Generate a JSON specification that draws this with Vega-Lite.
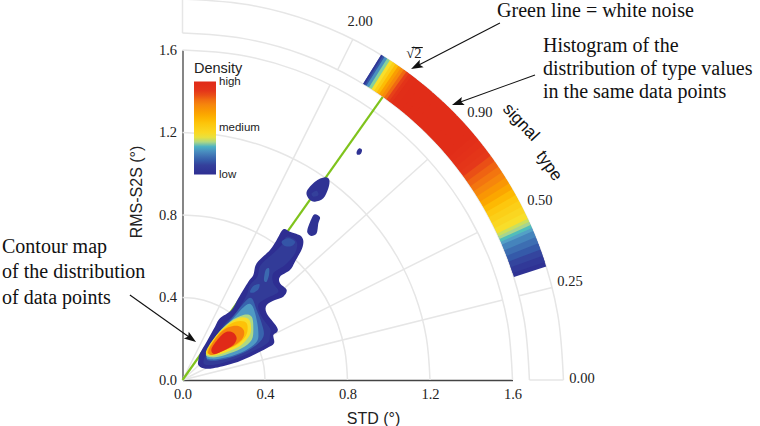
{
"$schema":"https://vega.github.io/schema/vega-lite/v6.json",
"width":330,"height":330,
"autosize":{"type":"none"},
"padding":{"left":182.5,"top":50,"right":247.5,"bottom":46},
"background":"white",
"config":{"view":{"stroke":null}},
"datasets":{
"arcs":[
{"id":"a4","x":0.4,"y":0},{"id":"a4","x":0.3939,"y":0.0695},{"id":"a4","x":0.3759,"y":0.1368},{"id":"a4","x":0.3464,"y":0.2},{"id":"a4","x":0.3064,"y":0.2571},{"id":"a4","x":0.2571,"y":0.3064},{"id":"a4","x":0.2,"y":0.3464},{"id":"a4","x":0.1368,"y":0.3759},{"id":"a4","x":0.0695,"y":0.3939},{"id":"a4","x":0,"y":0.4},
{"id":"a8","x":0.8,"y":0},{"id":"a8","x":0.7878,"y":0.1389},{"id":"a8","x":0.7518,"y":0.2736},{"id":"a8","x":0.6928,"y":0.4},{"id":"a8","x":0.6128,"y":0.5142},{"id":"a8","x":0.5142,"y":0.6128},{"id":"a8","x":0.4,"y":0.6928},{"id":"a8","x":0.2736,"y":0.7518},{"id":"a8","x":0.1389,"y":0.7878},{"id":"a8","x":0,"y":0.8},
{"id":"a12","x":1.2,"y":0},{"id":"a12","x":1.1818,"y":0.2084},{"id":"a12","x":1.1276,"y":0.4104},{"id":"a12","x":1.0392,"y":0.6},{"id":"a12","x":0.9192,"y":0.7714},{"id":"a12","x":0.7714,"y":0.9192},{"id":"a12","x":0.6,"y":1.0392},{"id":"a12","x":0.4104,"y":1.1276},{"id":"a12","x":0.2084,"y":1.1818},{"id":"a12","x":0,"y":1.2},
{"id":"a16","x":1.6,"y":0},{"id":"a16","x":1.5757,"y":0.2778},{"id":"a16","x":1.5035,"y":0.5472},{"id":"a16","x":1.3856,"y":0.8},{"id":"a16","x":1.2256,"y":1.0285},{"id":"a16","x":1.0285,"y":1.2256},{"id":"a16","x":0.8,"y":1.3856},{"id":"a16","x":0.5472,"y":1.5035},{"id":"a16","x":0.2778,"y":1.5757},{"id":"a16","x":0,"y":1.6},
{"id":"o1","x":1.682,"y":0},{"id":"o1","x":1.6564,"y":0.2921},{"id":"o1","x":1.5806,"y":0.5753},{"id":"o1","x":1.4567,"y":0.841},{"id":"o1","x":1.2885,"y":1.0812},{"id":"o1","x":1.0812,"y":1.2885},{"id":"o1","x":0.841,"y":1.4567},{"id":"o1","x":0.5753,"y":1.5806},{"id":"o1","x":0.2921,"y":1.6564},{"id":"o1","x":0,"y":1.682},
{"id":"o2","x":1.847,"y":0},{"id":"o2","x":1.8189,"y":0.3207},{"id":"o2","x":1.7356,"y":0.6317},{"id":"o2","x":1.5996,"y":0.9235},{"id":"o2","x":1.4149,"y":1.1872},{"id":"o2","x":1.1872,"y":1.4149},{"id":"o2","x":0.9235,"y":1.5996},{"id":"o2","x":0.6317,"y":1.7356},{"id":"o2","x":0.3207,"y":1.8189},{"id":"o2","x":0,"y":1.847}
],
"spokes":[
{"x":0,"y":0,"x2":1.552,"y2":0.388},{"x":0,"y":0,"x2":1.431,"y2":0.7155},{"x":0,"y":0,"x2":1.189,"y2":1.0706},{"x":0,"y":0,"x2":0.7155,"y2":1.431},
{"x":1.632,"y":0.408,"x2":1.792,"y2":0.448},{"x":0.752,"y":1.504,"x2":0.826,"y2":1.652},
{"x":1.682,"y":0,"x2":1.847,"y2":0},{"x":0,"y":1.682,"x2":0,"y2":1.847}
],
"band":[
{"x":1.6852,"y":0.5249,"x2":1.6688,"y2":0.5747,"h":0.02},
{"x":1.6786,"y":0.5454,"x2":1.6586,"y2":0.6037,"h":0.06},
{"x":1.6688,"y":0.5747,"x2":1.6478,"y2":0.6325,"h":0.11},
{"x":1.6586,"y":0.6037,"x2":1.6365,"y2":0.6612,"h":0.15},
{"x":1.6478,"y":0.6325,"x2":1.6247,"y2":0.6896,"h":0.19},
{"x":1.6365,"y":0.6612,"x2":1.6187,"y2":0.7037,"h":0.23},
{"x":1.6247,"y":0.6896,"x2":1.6123,"y2":0.7178,"h":0.28},
{"x":1.6187,"y":0.7037,"x2":1.6062,"y2":0.7319,"h":0.31},
{"x":1.6123,"y":0.7178,"x2":1.5996,"y2":0.7459,"h":0.34},
{"x":1.6062,"y":0.7319,"x2":1.5864,"y2":0.7738,"h":0.38},
{"x":1.5996,"y":0.7459,"x2":1.5726,"y2":0.8013,"h":0.42},
{"x":1.5864,"y":0.7738,"x2":1.5583,"y2":0.8287,"h":0.46},
{"x":1.5726,"y":0.8013,"x2":1.5437,"y2":0.8557,"h":0.5},
{"x":1.5583,"y":0.8287,"x2":1.5285,"y2":0.8825,"h":0.54},
{"x":1.5437,"y":0.8557,"x2":1.513,"y2":0.909,"h":0.59},
{"x":1.5285,"y":0.8825,"x2":1.4967,"y2":0.9353,"h":0.65},
{"x":1.513,"y":0.909,"x2":1.4803,"y2":0.9612,"h":0.7},
{"x":1.4967,"y":0.9353,"x2":1.4632,"y2":0.987,"h":0.75},
{"x":1.4803,"y":0.9612,"x2":1.4459,"y2":1.0124,"h":0.79},
{"x":1.4632,"y":0.987,"x2":1.4279,"y2":1.0375,"h":0.82},
{"x":1.4459,"y":1.0124,"x2":1.4095,"y2":1.0622,"h":0.85},
{"x":1.4279,"y":1.0375,"x2":1.3908,"y2":1.0867,"h":0.88},
{"x":1.4095,"y":1.0622,"x2":1.3716,"y2":1.1107,"h":0.91},
{"x":1.3908,"y":1.0867,"x2":1.352,"y2":1.1345,"h":0.94},
{"x":1.3716,"y":1.1107,"x2":1.3321,"y2":1.158,"h":0.96},
{"x":1.352,"y":1.1345,"x2":1.3116,"y2":1.181,"h":0.98},
{"x":1.3321,"y":1.158,"x2":1.2909,"y2":1.2037,"h":0.98},
{"x":1.3116,"y":1.181,"x2":1.2696,"y2":1.2261,"h":0.98},
{"x":1.2909,"y":1.2037,"x2":1.248,"y2":1.248,"h":0.98},
{"x":1.2696,"y":1.2261,"x2":1.2261,"y2":1.2696,"h":0.98},
{"x":1.248,"y":1.248,"x2":1.2037,"y2":1.2909,"h":0.98},
{"x":1.2261,"y":1.2696,"x2":1.181,"y2":1.3116,"h":0.98},
{"x":1.2037,"y":1.2909,"x2":1.158,"y2":1.3321,"h":0.98},
{"x":1.181,"y":1.3116,"x2":1.1345,"y2":1.352,"h":0.98},
{"x":1.158,"y":1.3321,"x2":1.1107,"y2":1.3716,"h":0.98},
{"x":1.1345,"y":1.352,"x2":1.0867,"y2":1.3908,"h":0.98},
{"x":1.1107,"y":1.3716,"x2":1.0622,"y2":1.4095,"h":0.98},
{"x":1.0867,"y":1.3908,"x2":1.0498,"y2":1.4189,"h":0.97},
{"x":1.0622,"y":1.4095,"x2":1.0375,"y2":1.4279,"h":0.93},
{"x":1.0498,"y":1.4189,"x2":1.0249,"y2":1.4369,"h":0.87},
{"x":1.0375,"y":1.4279,"x2":1.0124,"y2":1.4459,"h":0.81},
{"x":1.0249,"y":1.4369,"x2":0.9997,"y2":1.4545,"h":0.74},
{"x":1.0124,"y":1.4459,"x2":0.987,"y2":1.4632,"h":0.68},
{"x":0.9997,"y":1.4545,"x2":0.9741,"y2":1.4718,"h":0.58},
{"x":0.987,"y":1.4632,"x2":0.9612,"y2":1.4803,"h":0.5},
{"x":0.9741,"y":1.4718,"x2":0.9483,"y2":1.4886,"h":0.42},
{"x":0.9612,"y":1.4803,"x2":0.9353,"y2":1.4967,"h":0.33},
{"x":0.9483,"y":1.4886,"x2":0.9275,"y2":1.5017,"h":0.25},
{"x":0.9353,"y":1.4967,"x2":0.9196,"y2":1.5066,"h":0.14},
{"x":0.9275,"y":1.5017,"x2":0.9196,"y2":1.5066,"h":0.05}
],
"contours":[
{"id":"L0","d":0,"x":0.0768,"y":0.097},{"id":"L0","d":0,"x":0.0848,"y":0.1293},{"id":"L0","d":0,"x":0.1172,"y":0.1858},{"id":"L0","d":0,"x":0.1576,"y":0.2586},{"id":"L0","d":0,"x":0.1818,"y":0.299},{"id":"L0","d":0,"x":0.2384,"y":0.3394},{"id":"L0","d":0,"x":0.2707,"y":0.396},{"id":"L0","d":0,"x":0.3192,"y":0.4767},{"id":"L0","d":0,"x":0.3434,"y":0.509},{"id":"L0","d":0,"x":0.3596,"y":0.5656},{"id":"L0","d":0,"x":0.4242,"y":0.6302},{"id":"L0","d":0,"x":0.4565,"y":0.6787},{"id":"L0","d":0,"x":0.4888,"y":0.7304},{"id":"L0","d":0,"x":0.5212,"y":0.7191},{"id":"L0","d":0,"x":0.5777,"y":0.6949},{"id":"L0","d":0,"x":0.5826,"y":0.6464},{"id":"L0","d":0,"x":0.5454,"y":0.5737},{"id":"L0","d":0,"x":0.5212,"y":0.5333},{"id":"L0","d":0,"x":0.4727,"y":0.501},{"id":"L0","d":0,"x":0.4727,"y":0.4686},{"id":"L0","d":0,"x":0.505,"y":0.4363},{"id":"L0","d":0,"x":0.4888,"y":0.404},{"id":"L0","d":0,"x":0.4484,"y":0.3878},{"id":"L0","d":0,"x":0.408,"y":0.3636},{"id":"L0","d":0,"x":0.408,"y":0.3232},{"id":"L0","d":0,"x":0.4565,"y":0.2586},{"id":"L0","d":0,"x":0.4598,"y":0.2343},{"id":"L0","d":0,"x":0.4404,"y":0.2182},{"id":"L0","d":0,"x":0.4436,"y":0.1778},{"id":"L0","d":0,"x":0.408,"y":0.1535},{"id":"L0","d":0,"x":0.3272,"y":0.1131},{"id":"L0","d":0,"x":0.2464,"y":0.0808},{"id":"L0","d":0,"x":0.1495,"y":0.0566},{"id":"L0","d":0,"x":0.101,"y":0.0566},{"id":"L0","d":0,"x":0.0768,"y":0.0727},
{"id":"B1","d":0.02,"x":0.602,"y":0.9131},{"id":"B1","d":0.02,"x":0.6424,"y":0.9616},{"id":"B1","d":0.02,"x":0.6909,"y":0.9826},{"id":"B1","d":0.02,"x":0.7119,"y":0.9697},{"id":"B1","d":0.02,"x":0.7071,"y":0.9293},{"id":"B1","d":0.02,"x":0.6828,"y":0.8808},{"id":"B1","d":0.02,"x":0.6424,"y":0.8646},{"id":"B1","d":0.02,"x":0.6149,"y":0.876},
{"id":"B2","d":0.02,"x":0.6053,"y":0.7273},{"id":"B2","d":0.02,"x":0.6263,"y":0.7838},{"id":"B2","d":0.02,"x":0.6424,"y":0.8032},{"id":"B2","d":0.02,"x":0.6667,"y":0.7887},{"id":"B2","d":0.02,"x":0.6586,"y":0.7596},{"id":"B2","d":0.02,"x":0.6505,"y":0.7111},{"id":"B2","d":0.02,"x":0.6263,"y":0.6982},{"id":"B2","d":0.02,"x":0.6101,"y":0.7079},
{"id":"B3","d":0.02,"x":0.8444,"y":1.1071},{"id":"B3","d":0.02,"x":0.8574,"y":1.1232},{"id":"B3","d":0.02,"x":0.8703,"y":1.1152},{"id":"B3","d":0.02,"x":0.8638,"y":1.0958},{"id":"B3","d":0.02,"x":0.8477,"y":1.0925},
{"id":"L1","d":0.07,"x":0.101,"y":0.0889},{"id":"L1","d":0.07,"x":0.1495,"y":0.1858},{"id":"L1","d":0.07,"x":0.198,"y":0.2666},{"id":"L1","d":0.07,"x":0.2626,"y":0.3313},{"id":"L1","d":0.07,"x":0.3111,"y":0.4121},{"id":"L1","d":0.07,"x":0.3272,"y":0.4606},{"id":"L1","d":0.07,"x":0.3628,"y":0.501},{"id":"L1","d":0.07,"x":0.379,"y":0.5575},{"id":"L1","d":0.07,"x":0.4404,"y":0.6141},{"id":"L1","d":0.07,"x":0.4808,"y":0.6545},{"id":"L1","d":0.07,"x":0.505,"y":0.6949},{"id":"L1","d":0.07,"x":0.5535,"y":0.6706},{"id":"L1","d":0.07,"x":0.5454,"y":0.6141},{"id":"L1","d":0.07,"x":0.4969,"y":0.5575},{"id":"L1","d":0.07,"x":0.4404,"y":0.5171},{"id":"L1","d":0.07,"x":0.4404,"y":0.4686},{"id":"L1","d":0.07,"x":0.4646,"y":0.4282},{"id":"L1","d":0.07,"x":0.408,"y":0.3959},{"id":"L1","d":0.07,"x":0.3676,"y":0.3636},{"id":"L1","d":0.07,"x":0.3838,"y":0.307},{"id":"L1","d":0.07,"x":0.4242,"y":0.2505},{"id":"L1","d":0.07,"x":0.4242,"y":0.2182},{"id":"L1","d":0.07,"x":0.4113,"y":0.1778},{"id":"L1","d":0.07,"x":0.3272,"y":0.1325},{"id":"L1","d":0.07,"x":0.2303,"y":0.0937},{"id":"L1","d":0.07,"x":0.1414,"y":0.0727},
{"id":"IA","d":0.14,"x":0.4808,"y":0.6706},{"id":"IA","d":0.14,"x":0.5131,"y":0.6868},{"id":"IA","d":0.14,"x":0.5454,"y":0.6706},{"id":"IA","d":0.14,"x":0.5292,"y":0.6496},{"id":"IA","d":0.14,"x":0.4969,"y":0.6496},
{"id":"IB","d":0.18,"x":0.3951,"y":0.4848},{"id":"IB","d":0.18,"x":0.4032,"y":0.5333},{"id":"IB","d":0.18,"x":0.4194,"y":0.5414},{"id":"IB","d":0.18,"x":0.4194,"y":0.509},{"id":"IB","d":0.18,"x":0.408,"y":0.4767},
{"id":"IC","d":0.16,"x":0.3272,"y":0.4282},{"id":"IC","d":0.16,"x":0.3434,"y":0.4557},{"id":"IC","d":0.16,"x":0.3725,"y":0.4654},{"id":"IC","d":0.16,"x":0.3676,"y":0.4396},{"id":"IC","d":0.16,"x":0.3434,"y":0.4234},
{"id":"ID","d":0.1,"x":0.6263,"y":0.905},{"id":"ID","d":0.1,"x":0.6505,"y":0.918},{"id":"ID","d":0.1,"x":0.6586,"y":0.897},{"id":"ID","d":0.1,"x":0.6343,"y":0.8889},
{"id":"L2","d":0.17,"x":0.1172,"y":0.1131},{"id":"L2","d":0.17,"x":0.1737,"y":0.2262},{"id":"L2","d":0.17,"x":0.2384,"y":0.299},{"id":"L2","d":0.17,"x":0.303,"y":0.3798},{"id":"L2","d":0.17,"x":0.3353,"y":0.3959},{"id":"L2","d":0.17,"x":0.3596,"y":0.3394},{"id":"L2","d":0.17,"x":0.3838,"y":0.2747},{"id":"L2","d":0.17,"x":0.3919,"y":0.2101},{"id":"L2","d":0.17,"x":0.3353,"y":0.1535},{"id":"L2","d":0.17,"x":0.2464,"y":0.1131},{"id":"L2","d":0.17,"x":0.1495,"y":0.0937},
{"id":"L3","d":0.27,"x":0.1172,"y":0.1212},{"id":"L3","d":0.27,"x":0.1737,"y":0.2262},{"id":"L3","d":0.27,"x":0.2384,"y":0.2909},{"id":"L3","d":0.27,"x":0.303,"y":0.3588},{"id":"L3","d":0.27,"x":0.3353,"y":0.3636},{"id":"L3","d":0.27,"x":0.3563,"y":0.307},{"id":"L3","d":0.27,"x":0.3676,"y":0.2343},{"id":"L3","d":0.27,"x":0.3596,"y":0.1858},{"id":"L3","d":0.27,"x":0.303,"y":0.1422},{"id":"L3","d":0.27,"x":0.2141,"y":0.1099},{"id":"L3","d":0.27,"x":0.1414,"y":0.1002},
{"id":"L4","d":0.35,"x":0.1139,"y":0.1293},{"id":"L4","d":0.35,"x":0.1656,"y":0.2182},{"id":"L4","d":0.35,"x":0.2303,"y":0.2828},{"id":"L4","d":0.35,"x":0.2949,"y":0.3151},{"id":"L4","d":0.35,"x":0.3353,"y":0.307},{"id":"L4","d":0.35,"x":0.3434,"y":0.2505},{"id":"L4","d":0.35,"x":0.3353,"y":0.1939},{"id":"L4","d":0.35,"x":0.2868,"y":0.1535},{"id":"L4","d":0.35,"x":0.206,"y":0.1212},{"id":"L4","d":0.35,"x":0.1414,"y":0.1099},
{"id":"L5","d":0.42,"x":0.1139,"y":0.1374},{"id":"L5","d":0.42,"x":0.1656,"y":0.2182},{"id":"L5","d":0.42,"x":0.2303,"y":0.278},{"id":"L5","d":0.42,"x":0.2868,"y":0.3038},{"id":"L5","d":0.42,"x":0.324,"y":0.2909},{"id":"L5","d":0.42,"x":0.3321,"y":0.2424},{"id":"L5","d":0.42,"x":0.3192,"y":0.2068},{"id":"L5","d":0.42,"x":0.2788,"y":0.1648},{"id":"L5","d":0.42,"x":0.198,"y":0.1293},{"id":"L5","d":0.42,"x":0.1414,"y":0.118},
{"id":"L6","d":0.56,"x":0.1188,"y":0.14},{"id":"L6","d":0.56,"x":0.17,"y":0.2182},{"id":"L6","d":0.56,"x":0.2303,"y":0.27},{"id":"L6","d":0.56,"x":0.2788,"y":0.286},{"id":"L6","d":0.56,"x":0.3111,"y":0.2747},{"id":"L6","d":0.56,"x":0.3143,"y":0.2343},{"id":"L6","d":0.56,"x":0.2949,"y":0.1972},{"id":"L6","d":0.56,"x":0.2545,"y":0.1648},{"id":"L6","d":0.56,"x":0.1818,"y":0.1374},{"id":"L6","d":0.56,"x":0.1414,"y":0.126},
{"id":"L7","d":0.76,"x":0.1252,"y":0.1422},{"id":"L7","d":0.76,"x":0.1737,"y":0.2182},{"id":"L7","d":0.76,"x":0.2222,"y":0.2553},{"id":"L7","d":0.76,"x":0.2707,"y":0.2618},{"id":"L7","d":0.76,"x":0.2981,"y":0.2392},{"id":"L7","d":0.76,"x":0.2917,"y":0.202},{"id":"L7","d":0.76,"x":0.2545,"y":0.1697},{"id":"L7","d":0.76,"x":0.1818,"y":0.1341},{"id":"L7","d":0.76,"x":0.1414,"y":0.1212},
{"id":"L8","d":1,"x":0.1414,"y":0.1535},{"id":"L8","d":1,"x":0.1818,"y":0.2101},{"id":"L8","d":1,"x":0.2141,"y":0.2343},{"id":"L8","d":1,"x":0.2464,"y":0.2295},{"id":"L8","d":1,"x":0.2626,"y":0.202},{"id":"L8","d":1,"x":0.2464,"y":0.1697},{"id":"L8","d":1,"x":0.198,"y":0.1422},{"id":"L8","d":1,"x":0.1527,"y":0.126}
],
"notes":[
{"t":"Green line = white noise","x":1.525,"y":1.789},
{"t":"Histogram of the","x":1.748,"y":1.619},
{"t":"distribution of type values","x":1.748,"y":1.508},
{"t":"in the same data points","x":1.748,"y":1.396},
{"t":"Contour map","x":-0.875,"y":0.645},
{"t":"of the distribution","x":-0.875,"y":0.524},
{"t":"of data points","x":-0.875,"y":0.398}
],
"ticks":[
{"t":"2.00","x":0.861,"y":1.736},
{"t":"√2","x":1.122,"y":1.581},
{"t":"0.90","x":1.442,"y":1.295},
{"t":"0.50","x":1.733,"y":0.868},
{"t":"0.25","x":1.879,"y":0.475},
{"t":"0.00","x":1.937,"y":0.005}
],
"leaders":[
{"x":1.539,"y":1.731,"x2":1.134,"y2":1.521},
{"x":1.709,"y":1.479,"x2":1.334,"y2":1.343},
{"x":-0.255,"y":0.412,"x2":0.042,"y2":0.201},
{"x":1.111,"y":1.612,"x2":1.165,"y2":1.612}
]
},
"encoding":{
"x":{"field":"x","type":"quantitative","scale":{"domain":[0,1.6],"nice":false,"zero":false},
 "axis":{"title":"STD (°)","titleX":190.5,"titleY":30,"values":[0,0.4,0.8,1.2,1.6],"format":".1f","grid":false,"domainColor":"#444444","domainWidth":1.3,"tickSize":0,"labelFont":"Liberation Serif","labelFontSize":14.5,"labelColor":"#222222","labelPadding":7,"titleFont":"Liberation Sans","titleFontSize":16,"titleFontWeight":"normal","titleColor":"#222222","labelFlush":false,"labelOverlap":false}},
"y":{"field":"y","type":"quantitative","scale":{"domain":[0,1.6],"nice":false,"zero":false},
 "axis":{"title":"RMS-S2S (°)","titleX":-38,"titleY":141.5,"values":[0,0.4,0.8,1.2,1.6],"format":".1f","grid":false,"domainColor":"#444444","domainWidth":1.3,"tickSize":0,"labelFont":"Liberation Serif","labelFontSize":14.5,"labelColor":"#222222","labelPadding":6,"titleFont":"Liberation Sans","titleFontSize":16,"titleFontWeight":"normal","titleColor":"#222222","labelOverlap":false}}
},
"layer":[
{"data":{"name":"arcs"},"mark":{"type":"line","interpolate":"cardinal","stroke":"#e6e6e6","strokeWidth":1.5},"encoding":{"detail":{"field":"id"},"order":{"value":null}}},
{"data":{"name":"spokes"},"mark":{"type":"rule","stroke":"#e6e6e6","strokeWidth":1.5},"encoding":{"x2":{"field":"x2"},"y2":{"field":"y2"}}},
{"data":{"values":[{"x":0,"y":0,"x2":0.971,"y2":1.373}]},"mark":{"type":"rule","stroke":"#7fc31c","strokeWidth":2.2},"encoding":{"x2":{"field":"x2"},"y2":{"field":"y2"}}},
{"data":{"values":[{"a0":17.3,"a1":17.4,"d":0.02}]},"mark":{"type":"arc"},
 "encoding":{
  "x":{"datum":0},"y":{"datum":0},
  "radius":{"value":381},"radius2":{"value":347},
  "theta":{"field":"a0","type":"quantitative","stack":null,"scale":{"domain":[90,0],"range":[0,1.5707963]}},
  "theta2":{"field":"a1"},
  "fill":{"field":"d","type":"quantitative","scale":{"domain":[0,0.1,0.21,0.29,0.34,0.41,0.55,0.77,0.88,1],"range":["#2e2e92","#34409b","#4478b6","#58a5c8","#a8d58f","#f8e02c","#fdc50b","#f5800f","#e5381a","#e02a18"]},
   "legend":{"orient":"none","legendX":11.5,"legendY":12,"direction":"vertical","title":"Density","titleFont":"Liberation Sans","titleFontSize":14.5,"titleFontWeight":"normal","titleColor":"#222222","titlePadding":5,"gradientLength":93,"gradientThickness":22,"gradientStrokeWidth":0,"values":[0,0.5,1],"labelExpr":"datum.value==1?'high':datum.value==0.5?'medium':'low'","labelFont":"Liberation Sans","labelFontSize":11.5,"labelColor":"#222222","labelOffset":3,"labelOverlap":false,"encode":{"labels":{"update":{"baseline":{"value":"middle"}}}}}}
 }},
{"data":{"name":"band"},"mark":{"type":"rule","strokeWidth":34},
 "encoding":{
  "x2":{"field":"x2"},"y2":{"field":"y2"},
  "stroke":{"field":"h","type":"quantitative","scale":{"domain":[0,0.1,0.21,0.29,0.34,0.41,0.55,0.77,0.88,1.0001],"range":["#2e2e92","#34409b","#4478b6","#58a5c8","#a8d58f","#f8e02c","#fdc50b","#f5800f","#e5381a","#e02a18"]},"legend":null}
 }},
{"data":{"name":"contours"},"mark":{"type":"line","interpolate":"cardinal-closed","strokeWidth":0},
 "encoding":{"detail":{"field":"id"},"order":{"value":null},"fill":{"field":"d","type":"quantitative","legend":null}}},
{"data":{"name":"leaders"},"mark":{"type":"rule","stroke":"#111111","strokeWidth":1.1},"encoding":{"x2":{"field":"x2"},"y2":{"field":"y2"}}},
{"data":{"values":[{"x":1.134,"y":1.521}]},"mark":{"type":"point","shape":"M0,-1L0.7,1L0,0.6L-0.7,1Z","filled":true,"color":"#111111","size":144,"angle":242.7,"opacity":1}},
{"data":{"values":[{"x":1.334,"y":1.343}]},"mark":{"type":"point","shape":"M0,-1L0.7,1L0,0.6L-0.7,1Z","filled":true,"color":"#111111","size":144,"angle":250.1,"opacity":1}},
{"data":{"values":[{"x":0.042,"y":0.201}]},"mark":{"type":"point","shape":"M0,-1L0.7,1L0,0.6L-0.7,1Z","filled":true,"color":"#111111","size":144,"angle":125.5,"opacity":1}},
{"data":{"name":"notes"},"mark":{"type":"text","align":"left","baseline":"middle","font":"Liberation Serif","fontSize":20,"color":"#111111"},"encoding":{"text":{"field":"t"}}},
{"data":{"name":"ticks"},"mark":{"type":"text","align":"center","baseline":"middle","font":"Liberation Serif","fontSize":14.5,"color":"#222222"},"encoding":{"text":{"field":"t"}}},
{"data":{"values":[{"t":"signal","x":1.64,"y":1.249}]},"mark":{"type":"text","angle":47,"align":"center","baseline":"middle","font":"Liberation Sans","fontSize":17,"color":"#111111"},"encoding":{"text":{"field":"t"}}},
{"data":{"values":[{"t":"type","x":1.777,"y":1.038}]},"mark":{"type":"text","angle":55,"align":"center","baseline":"middle","font":"Liberation Sans","fontSize":17,"color":"#111111"},"encoding":{"text":{"field":"t"}}}
]
}
